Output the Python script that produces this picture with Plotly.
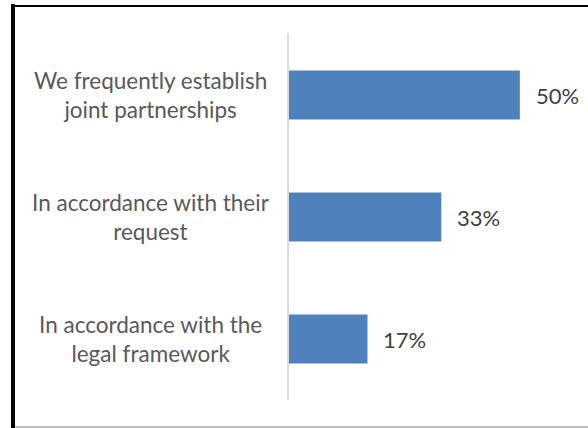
import plotly.graph_objects as go

categories = ["We frequently establish<br>joint partnerships",
              "In accordance with their<br>request",
              "In accordance with the<br>legal framework"]
values = [0.50, 0.33, 0.17]
value_labels = ["50%", "33%", "17%"]

W, H = 588, 428
ML, MR, MT, MB = 289, 22, 34, 28
PW, PH = W - ML - MR, H - MT - MB

def px_x(px):
    return (px - ML) / PW

def px_y(py):
    return (H - MB - py) / PH

FONT = "Lato"

fig = go.Figure()
fig.add_trace(go.Bar(
    y=categories, x=values, orientation="h",
    marker=dict(color="#4f81bd", line=dict(width=0)),
    hoverinfo="skip",
))

annotations = []
for c, v, t in zip(categories, values, value_labels):
    annotations.append(dict(x=v, y=c, xref="x", yref="y", text=t,
                            showarrow=False, xanchor="left", yanchor="middle",
                            xshift=14, font=dict(family=FONT, size=22, color="#404040")))
    annotations.append(dict(x=px_x(150.5), y=c, xref="paper", yref="y", text=c,
                            showarrow=False, xanchor="center", yanchor="middle",
                            align="center",
                            font=dict(family=FONT, size=22.5, color="#595959")))

shapes = [
    dict(type="line", xref="paper", yref="paper", x0=px_x(13), x1=px_x(13),
         y0=px_y(4), y1=px_y(430), line=dict(color="black", width=4)),
    dict(type="line", xref="paper", yref="paper", x0=px_x(11), x1=px_x(590),
         y0=px_y(6), y1=px_y(6), line=dict(color="black", width=2)),
    dict(type="line", xref="paper", yref="paper", x0=px_x(15), x1=px_x(590),
         y0=px_y(427), y1=px_y(427), line=dict(color="#a6a6a6", width=1.5)),
]

fig.update_layout(
    width=W, height=H,
    margin=dict(l=ML, r=MR, t=MT, b=MB, pad=0),
    paper_bgcolor="white", plot_bgcolor="white",
    showlegend=False,
    bargap=0.6,
    xaxis=dict(range=[0, 0.6], visible=False, fixedrange=True),
    yaxis=dict(categoryorder="array", categoryarray=categories[::-1],
               showticklabels=False, ticks="", showgrid=False,
               showline=True, linecolor="#d9d9d9", linewidth=1.5,
               zeroline=False, fixedrange=True),
    annotations=annotations,
    shapes=shapes,
    font=dict(family=FONT),
)

fig.write_html("out.html", config={"displayModeBar": False},
               post_script="document.body.style.margin='0';document.body.style.overflow='hidden';")
